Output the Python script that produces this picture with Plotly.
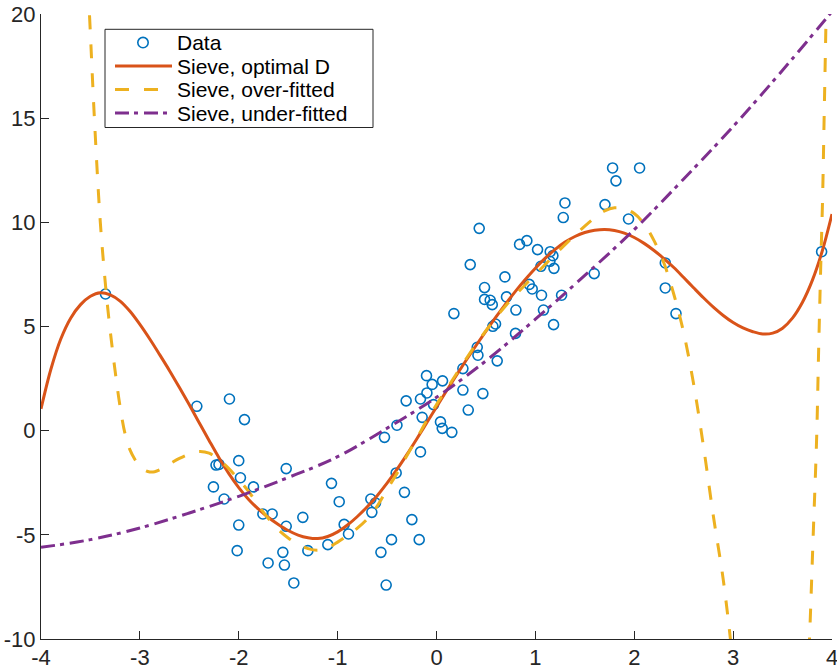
import plotly.graph_objects as go

# ---- observations -------------------------------------------------------
data_x = [-3.348, -2.424, -2.094, -1.942, -2.230, -2.200, -2.000, -1.983, -2.256, -1.851,
          -2.148, -1.520, -1.062, -0.984, -0.664, -0.617, -0.654, -0.526, -0.400, -0.408,
          -1.756, -1.662, -2.000, -1.520, -1.352, -0.934, -0.890, -2.016, -1.554, -1.301,
          -1.099, -1.703, -1.538, -1.443, -0.455, -0.562, -0.509, -0.324, -0.307, -0.249,
          -0.175, -0.162, -0.162, -0.145, -0.101, -0.097, -0.044, -0.030, 0.040, 0.058,
          0.061, 0.155, 0.176, 0.267, 0.267, 0.321, 0.341, 0.412, 0.419, 0.432,
          0.469, 0.486, 0.486, 0.543, 0.564, 0.570, 0.597, 0.614, 0.692, 0.708,
          0.799, 0.803, 0.840, 0.914, 0.938, 0.968, 1.022, 1.056, 1.062, 1.082,
          1.147, 1.150, 1.177, 1.184, 1.188, 1.265, 1.282, 1.299, 1.595, 1.704,
          1.781, 1.815, 1.942, 2.054, 2.314, 2.314, 2.422, 3.895]
data_y = [6.56, 1.17, 1.52, 0.53, -1.65, -1.62, -1.44, -2.26, -2.70, -2.70,
          -3.28, -1.82, -2.53, -3.41, -3.28, -3.47, -3.92, -0.32, 0.26, -2.03,
          -4.00, -4.00, -4.53, -4.59, -4.16, -4.50, -4.96, -5.76, -5.84, -5.76,
          -5.47, -6.35, -6.45, -7.31, -5.23, -5.84, -7.41, -2.96, 1.43, -4.27,
          -5.23, -1.02, 1.52, 0.64, 2.64, 1.81, 2.22, 1.25, 0.42, 0.11,
          2.39, -0.08, 5.62, 2.98, 1.95, 0.99, 7.97, 4.00, 3.62, 9.71,
          1.78, 6.87, 6.30, 6.26, 6.05, 5.01, 5.12, 3.35, 7.38, 6.42,
          4.67, 5.79, 8.94, 9.12, 7.02, 6.80, 8.69, 7.89, 6.50, 5.79,
          8.13, 8.59, 8.40, 5.09, 7.79, 6.50, 10.23, 10.93, 7.54, 10.85,
          12.61, 11.99, 10.16, 12.61, 8.05, 6.85, 5.62, 8.59]

# ---- sieve estimate with the selected dimension ---------------------------
opt_x = [-4.0, -3.9, -3.8, -3.7, -3.6, -3.5, -3.4, -3.3, -3.2, -3.1,
         -3.0, -2.9, -2.8, -2.7, -2.6, -2.5, -2.4, -2.3, -2.2, -2.1,
         -2.0, -1.9, -1.8, -1.7, -1.6, -1.5, -1.4, -1.3, -1.2, -1.1,
         -1.0, -0.9, -0.8, -0.7, -0.6, -0.5, -0.4, -0.3, -0.2, -0.1,
         0.0, 0.1, 0.2, 0.3, 0.4, 0.5, 0.6, 0.7, 0.8, 0.9,
         1.0, 1.1, 1.2, 1.3, 1.4, 1.5, 1.6, 1.7, 1.8, 1.9,
         2.0, 2.1, 2.2, 2.3, 2.4, 2.5, 2.6, 2.7, 2.8, 2.9,
         3.0, 3.1, 3.2, 3.3, 3.4, 3.5, 3.6, 3.7, 3.8, 3.9, 4.0]
opt_y = [1.05, 2.95, 4.40, 5.40, 6.05, 6.45, 6.62, 6.52, 6.22, 5.73,
         5.10, 4.40, 3.65, 2.88, 2.07, 1.24, 0.38, -0.47, -1.30, -2.06,
         -2.73, -3.30, -3.77, -4.17, -4.50, -4.79, -5.01, -5.14, -5.18, -5.08,
         -4.86, -4.53, -4.12, -3.65, -3.12, -2.52, -1.86, -1.15, -0.40, 0.37,
         1.14, 1.90, 2.65, 3.38, 4.09, 4.78, 5.45, 6.09, 6.70, 7.27,
         7.80, 8.28, 8.70, 9.05, 9.32, 9.51, 9.62, 9.66, 9.61, 9.48,
         9.27, 8.99, 8.65, 8.26, 7.83, 7.35, 6.86, 6.38, 5.93, 5.53,
         5.19, 4.93, 4.75, 4.64, 4.68, 4.92, 5.40, 6.15, 7.20, 8.60, 10.40]

# ---- sieve estimate with too many terms ----------------------------------
over_x = [-3.57, -3.51, -3.46, -3.40, -3.34, -3.30, -3.25, -3.20, -3.15, -3.10,
          -3.05, -3.00, -2.95, -2.90, -2.85, -2.80, -2.70, -2.60, -2.50, -2.40,
          -2.30, -2.20, -2.10, -2.00, -1.90, -1.80, -1.70, -1.60, -1.50, -1.40,
          -1.30, -1.20, -1.10, -1.00, -0.90, -0.80, -0.70, -0.60, -0.50, -0.40,
          -0.30, -0.20, -0.10, 0.00, 0.10, 0.20, 0.30, 0.40, 0.50, 0.60,
          0.70, 0.80, 0.90, 1.00, 1.10, 1.20, 1.30, 1.40, 1.50, 1.60,
          1.70, 1.80, 1.90, 2.00, 2.10, 2.20, 2.30, 2.40, 2.50, 2.60,
          2.70, 2.80, 2.90, 3.00, 3.10, 3.30, 3.50, 3.70, 3.77, 3.81,
          3.845, 3.865, 3.885, 3.905, 3.92, 3.935, 3.95, 3.97]
over_y = [25.5, 20.0, 15.0, 10.0, 6.6, 4.8, 2.85, 1.15, -0.15, -0.92,
          -1.38, -1.70, -1.90, -1.98, -1.97, -1.88, -1.60, -1.33, -1.12, -1.00,
          -1.08, -1.40, -1.82, -2.35, -2.92, -3.60, -4.22, -4.75, -5.15, -5.45,
          -5.66, -5.74, -5.62, -5.35, -5.03, -4.68, -4.24, -3.62, -2.82, -2.05,
          -1.20, -0.38, 0.48, 1.25, 1.98, 2.72, 3.45, 4.15, 4.80, 5.42,
          6.00, 6.52, 7.02, 7.50, 7.98, 8.46, 8.93, 9.38, 9.82, 10.22,
          10.55, 10.70, 10.65, 10.42, 9.92, 9.12, 8.05, 6.55, 4.70, 2.25,
          -0.75, -4.10, -7.15, -11.2, -16.0, -30.0, -35.0, -18.0, -10.3, -5.0,
          -0.3, 3.9, 7.7, 11.2, 14.9, 18.6, 22.4, 27.0]

# ---- sieve estimate with too few terms -----------------------------------
under_x = [-4.0, -3.5, -3.0, -2.5, -2.0, -1.5, -1.0, -0.5, 0.0,
           0.5, 1.0, 1.5, 2.0, 2.5, 3.0, 3.5, 4.0]
under_y = [-5.60, -5.23, -4.67, -3.95, -3.15, -2.25, -1.25, 0.12, 1.60,
           3.35, 5.35, 7.45, 9.65, 12.08, 14.60, 17.30, 20.12]

series_names = ["Data", "Sieve, optimal D", "Sieve, over-fitted", "Sieve, under-fitted"]

x_tick_vals = [-4, -3, -2, -1, 0, 1, 2, 3, 4]
x_tick_text = ["-4", "-3", "-2", "-1", "0", "1", "2", "3", "4"]
y_tick_vals = [-10, -5, 0, 5, 10, 15, 20]
y_tick_text = ["-10", "-5", "0", "5", "10", "15", "20"]

# ---- styling --------------------------------------------------------------
BLUE = "#0072BD"
ORANGE = "#D95319"
YELLOW = "#EDB120"
PURPLE = "#7E2F8E"
AXIS = "#262626"
FONT = "Liberation Sans, Arial, Helvetica, sans-serif"
DASH = "14px,15px"
DASHDOT = "14px,5px,4px,6px"
LW = 3

W, H = 837, 670
ML, MR, MT, MB = 41, 5, 14, 31

fig = go.Figure()
fig.add_trace(go.Scatter(x=data_x, y=data_y, mode="markers", name=series_names[0],
                         marker=dict(symbol="circle-open", size=10, color=BLUE,
                                     line=dict(width=1.6, color=BLUE)),
                         showlegend=False, cliponaxis=True))
fig.add_trace(go.Scatter(x=opt_x, y=opt_y, mode="lines", name=series_names[1],
                         line=dict(color=ORANGE, width=LW, shape="spline"),
                         showlegend=False))
fig.add_trace(go.Scatter(x=over_x, y=over_y, mode="lines", name=series_names[2],
                         line=dict(color=YELLOW, width=LW, dash=DASH, shape="spline"),
                         showlegend=False))
fig.add_trace(go.Scatter(x=under_x, y=under_y, mode="lines", name=series_names[3],
                         line=dict(color=PURPLE, width=LW, dash=DASHDOT, shape="spline"),
                         showlegend=False))

axis_common = dict(showline=True, linecolor=AXIS, linewidth=1.2, mirror=False,
                   ticks="inside", ticklen=8, tickwidth=1.2, tickcolor=AXIS,
                   showgrid=False, zeroline=False, automargin=False,
                   ticklabeloverflow="allow",
                   tickfont=dict(family=FONT, size=22, color=AXIS))

fig.update_xaxes(range=[-4, 4], tickvals=x_tick_vals, ticktext=x_tick_text, **axis_common)
fig.update_yaxes(range=[-10, 20], tickvals=y_tick_vals, ticktext=y_tick_text, **axis_common)
try:
    fig.update_xaxes(ticklabelstandoff=-2)
except ValueError:
    pass

# ---- legend box, drawn in pixel units converted to paper coordinates -------
plot_w = W - ML - MR
plot_h = H - MT - MB


def px(xp):
    return (xp - ML) / plot_w


def py(yp):
    return (H - MB - yp) / plot_h


rows = [42.6, 66.1, 89.6, 113.1]
shapes = [dict(type="rect", xref="paper", yref="paper",
               x0=px(105), x1=px(373), y0=py(127.5), y1=py(29.3),
               line=dict(color=AXIS, width=1), fillcolor="white", layer="above")]
shapes.append(dict(type="circle", xref="paper", yref="paper",
                   x0=px(143 - 5.2), x1=px(143 + 5.2), y0=py(rows[0] + 5.2), y1=py(rows[0] - 5.2),
                   line=dict(color=BLUE, width=1.6), layer="above"))
for yr, col, dash in [(rows[1], ORANGE, "solid"), (rows[2], YELLOW, DASH), (rows[3], PURPLE, DASHDOT)]:
    shapes.append(dict(type="line", xref="paper", yref="paper",
                       x0=px(115), x1=px(172), y0=py(yr), y1=py(yr),
                       line=dict(color=col, width=LW, dash=dash), layer="above"))

annotations = [dict(x=px(176), y=py(yr), xref="paper", yref="paper", text=name,
                    xanchor="left", yanchor="middle", showarrow=False,
                    valign="middle", borderpad=0,
                    font=dict(family=FONT, size=21, color="#000000"))
               for yr, name in zip(rows, series_names)]

fig.update_layout(width=W, height=H, margin=dict(l=ML, r=MR, t=MT, b=MB, pad=0),
                  paper_bgcolor="white", plot_bgcolor="white",
                  shapes=shapes, annotations=annotations, showlegend=False)

fig.write_html("out.html")
